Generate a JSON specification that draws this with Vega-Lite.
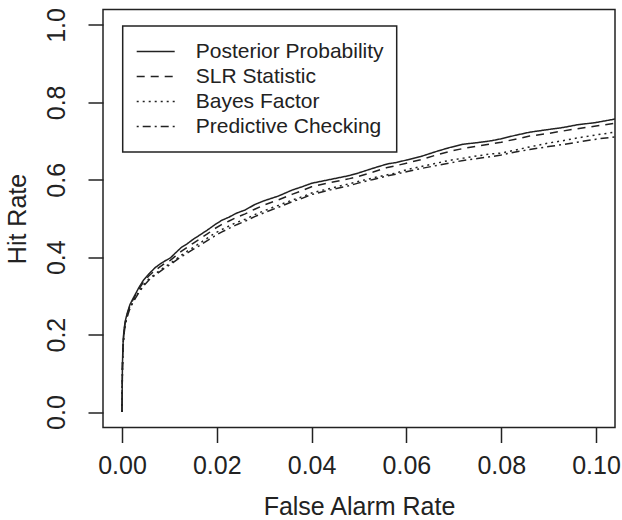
{
 "$schema": "https://vega.github.io/schema/vega-lite/v6.json",
 "width": 512,
 "height": 418,
 "autosize": {"type": "none"},
 "padding": {"left": 103, "top": 9.5, "right": 7, "bottom": 92.5},
 "background": "white",
 "config": {
  "font": "Liberation Sans",
  "view": {"stroke": "#222", "strokeWidth": 1.5},
  "axis": {"grid": false, "domain": false, "tickColor": "#222", "tickWidth": 1.5, "tickSize": 15, "labelColor": "#222", "titleColor": "#222", "labelFontSize": 25, "titleFontSize": 25, "titleFontWeight": "normal", "labelFont": "Liberation Sans", "titleFont": "Liberation Sans"},
  "legend": {"strokeColor": "#222", "strokeWidth": 1.5, "padding": 13, "labelFont": "Liberation Sans"}
 },
 "data": {"values": [
  {"m":"Posterior Probability","x":0,"y":0},{"m":"Posterior Probability","x":0.0001,"y":0.12},{"m":"Posterior Probability","x":0.0002,"y":0.17},{"m":"Posterior Probability","x":0.0004,"y":0.21},{"m":"Posterior Probability","x":0.0007,"y":0.235},{"m":"Posterior Probability","x":0.0011,"y":0.255},{"m":"Posterior Probability","x":0.0017,"y":0.278},{"m":"Posterior Probability","x":0.0025,"y":0.297},{"m":"Posterior Probability","x":0.0035,"y":0.32},{"m":"Posterior Probability","x":0.0045,"y":0.34},{"m":"Posterior Probability","x":0.0057,"y":0.357},{"m":"Posterior Probability","x":0.007,"y":0.373},{"m":"Posterior Probability","x":0.008,"y":0.382},{"m":"Posterior Probability","x":0.009,"y":0.39},{"m":"Posterior Probability","x":0.0102,"y":0.398},{"m":"Posterior Probability","x":0.0112,"y":0.41},{"m":"Posterior Probability","x":0.0125,"y":0.425},{"m":"Posterior Probability","x":0.0138,"y":0.435},{"m":"Posterior Probability","x":0.015,"y":0.446},{"m":"Posterior Probability","x":0.0165,"y":0.458},{"m":"Posterior Probability","x":0.018,"y":0.47},{"m":"Posterior Probability","x":0.0196,"y":0.484},{"m":"Posterior Probability","x":0.021,"y":0.495},{"m":"Posterior Probability","x":0.0225,"y":0.503},{"m":"Posterior Probability","x":0.0242,"y":0.514},{"m":"Posterior Probability","x":0.026,"y":0.522},{"m":"Posterior Probability","x":0.028,"y":0.536},{"m":"Posterior Probability","x":0.03,"y":0.546},{"m":"Posterior Probability","x":0.033,"y":0.558},{"m":"Posterior Probability","x":0.036,"y":0.574},{"m":"Posterior Probability","x":0.038,"y":0.582},{"m":"Posterior Probability","x":0.04,"y":0.591},{"m":"Posterior Probability","x":0.044,"y":0.601},{"m":"Posterior Probability","x":0.048,"y":0.611},{"m":"Posterior Probability","x":0.05,"y":0.618},{"m":"Posterior Probability","x":0.053,"y":0.63},{"m":"Posterior Probability","x":0.056,"y":0.641},{"m":"Posterior Probability","x":0.058,"y":0.645},{"m":"Posterior Probability","x":0.06,"y":0.651},{"m":"Posterior Probability","x":0.063,"y":0.66},{"m":"Posterior Probability","x":0.066,"y":0.672},{"m":"Posterior Probability","x":0.069,"y":0.683},{"m":"Posterior Probability","x":0.072,"y":0.692},{"m":"Posterior Probability","x":0.075,"y":0.696},{"m":"Posterior Probability","x":0.078,"y":0.701},{"m":"Posterior Probability","x":0.08,"y":0.706},{"m":"Posterior Probability","x":0.083,"y":0.715},{"m":"Posterior Probability","x":0.086,"y":0.723},{"m":"Posterior Probability","x":0.09,"y":0.73},{"m":"Posterior Probability","x":0.093,"y":0.735},{"m":"Posterior Probability","x":0.096,"y":0.742},{"m":"Posterior Probability","x":0.1,"y":0.748},{"m":"Posterior Probability","x":0.104,"y":0.757},
  {"m":"SLR Statistic","x":0,"y":0},{"m":"SLR Statistic","x":0.0001,"y":0.115},{"m":"SLR Statistic","x":0.0002,"y":0.165},{"m":"SLR Statistic","x":0.0004,"y":0.205},{"m":"SLR Statistic","x":0.0007,"y":0.232},{"m":"SLR Statistic","x":0.0011,"y":0.252},{"m":"SLR Statistic","x":0.0017,"y":0.275},{"m":"SLR Statistic","x":0.0025,"y":0.294},{"m":"SLR Statistic","x":0.0035,"y":0.316},{"m":"SLR Statistic","x":0.0045,"y":0.335},{"m":"SLR Statistic","x":0.0057,"y":0.352},{"m":"SLR Statistic","x":0.007,"y":0.366},{"m":"SLR Statistic","x":0.008,"y":0.375},{"m":"SLR Statistic","x":0.009,"y":0.384},{"m":"SLR Statistic","x":0.0102,"y":0.392},{"m":"SLR Statistic","x":0.0112,"y":0.402},{"m":"SLR Statistic","x":0.0125,"y":0.415},{"m":"SLR Statistic","x":0.0138,"y":0.426},{"m":"SLR Statistic","x":0.015,"y":0.436},{"m":"SLR Statistic","x":0.0165,"y":0.448},{"m":"SLR Statistic","x":0.018,"y":0.46},{"m":"SLR Statistic","x":0.0196,"y":0.474},{"m":"SLR Statistic","x":0.021,"y":0.484},{"m":"SLR Statistic","x":0.0225,"y":0.493},{"m":"SLR Statistic","x":0.0242,"y":0.503},{"m":"SLR Statistic","x":0.026,"y":0.512},{"m":"SLR Statistic","x":0.028,"y":0.524},{"m":"SLR Statistic","x":0.03,"y":0.535},{"m":"SLR Statistic","x":0.033,"y":0.548},{"m":"SLR Statistic","x":0.036,"y":0.563},{"m":"SLR Statistic","x":0.038,"y":0.572},{"m":"SLR Statistic","x":0.04,"y":0.582},{"m":"SLR Statistic","x":0.044,"y":0.593},{"m":"SLR Statistic","x":0.048,"y":0.603},{"m":"SLR Statistic","x":0.05,"y":0.609},{"m":"SLR Statistic","x":0.053,"y":0.62},{"m":"SLR Statistic","x":0.056,"y":0.632},{"m":"SLR Statistic","x":0.058,"y":0.637},{"m":"SLR Statistic","x":0.06,"y":0.643},{"m":"SLR Statistic","x":0.063,"y":0.652},{"m":"SLR Statistic","x":0.066,"y":0.663},{"m":"SLR Statistic","x":0.069,"y":0.673},{"m":"SLR Statistic","x":0.072,"y":0.681},{"m":"SLR Statistic","x":0.075,"y":0.687},{"m":"SLR Statistic","x":0.078,"y":0.693},{"m":"SLR Statistic","x":0.08,"y":0.697},{"m":"SLR Statistic","x":0.083,"y":0.705},{"m":"SLR Statistic","x":0.086,"y":0.713},{"m":"SLR Statistic","x":0.09,"y":0.72},{"m":"SLR Statistic","x":0.093,"y":0.726},{"m":"SLR Statistic","x":0.096,"y":0.732},{"m":"SLR Statistic","x":0.1,"y":0.739},{"m":"SLR Statistic","x":0.104,"y":0.746},
  {"m":"Bayes Factor","x":0,"y":0},{"m":"Bayes Factor","x":0.0001,"y":0.11},{"m":"Bayes Factor","x":0.0002,"y":0.16},{"m":"Bayes Factor","x":0.0004,"y":0.2},{"m":"Bayes Factor","x":0.0007,"y":0.228},{"m":"Bayes Factor","x":0.0011,"y":0.248},{"m":"Bayes Factor","x":0.0017,"y":0.27},{"m":"Bayes Factor","x":0.0025,"y":0.289},{"m":"Bayes Factor","x":0.0035,"y":0.31},{"m":"Bayes Factor","x":0.0045,"y":0.328},{"m":"Bayes Factor","x":0.0057,"y":0.344},{"m":"Bayes Factor","x":0.007,"y":0.357},{"m":"Bayes Factor","x":0.008,"y":0.366},{"m":"Bayes Factor","x":0.009,"y":0.375},{"m":"Bayes Factor","x":0.0102,"y":0.384},{"m":"Bayes Factor","x":0.0112,"y":0.393},{"m":"Bayes Factor","x":0.0125,"y":0.405},{"m":"Bayes Factor","x":0.0138,"y":0.416},{"m":"Bayes Factor","x":0.015,"y":0.425},{"m":"Bayes Factor","x":0.0165,"y":0.437},{"m":"Bayes Factor","x":0.018,"y":0.449},{"m":"Bayes Factor","x":0.0196,"y":0.462},{"m":"Bayes Factor","x":0.021,"y":0.471},{"m":"Bayes Factor","x":0.0225,"y":0.48},{"m":"Bayes Factor","x":0.0242,"y":0.49},{"m":"Bayes Factor","x":0.026,"y":0.498},{"m":"Bayes Factor","x":0.028,"y":0.51},{"m":"Bayes Factor","x":0.03,"y":0.52},{"m":"Bayes Factor","x":0.033,"y":0.534},{"m":"Bayes Factor","x":0.036,"y":0.548},{"m":"Bayes Factor","x":0.038,"y":0.556},{"m":"Bayes Factor","x":0.04,"y":0.566},{"m":"Bayes Factor","x":0.044,"y":0.578},{"m":"Bayes Factor","x":0.048,"y":0.59},{"m":"Bayes Factor","x":0.05,"y":0.596},{"m":"Bayes Factor","x":0.053,"y":0.605},{"m":"Bayes Factor","x":0.056,"y":0.613},{"m":"Bayes Factor","x":0.058,"y":0.618},{"m":"Bayes Factor","x":0.06,"y":0.626},{"m":"Bayes Factor","x":0.063,"y":0.634},{"m":"Bayes Factor","x":0.066,"y":0.642},{"m":"Bayes Factor","x":0.069,"y":0.65},{"m":"Bayes Factor","x":0.072,"y":0.656},{"m":"Bayes Factor","x":0.075,"y":0.662},{"m":"Bayes Factor","x":0.078,"y":0.667},{"m":"Bayes Factor","x":0.08,"y":0.669},{"m":"Bayes Factor","x":0.083,"y":0.677},{"m":"Bayes Factor","x":0.086,"y":0.685},{"m":"Bayes Factor","x":0.09,"y":0.695},{"m":"Bayes Factor","x":0.093,"y":0.701},{"m":"Bayes Factor","x":0.096,"y":0.708},{"m":"Bayes Factor","x":0.1,"y":0.716},{"m":"Bayes Factor","x":0.104,"y":0.723},
  {"m":"Predictive Checking","x":0,"y":0},{"m":"Predictive Checking","x":0.0001,"y":0.11},{"m":"Predictive Checking","x":0.0002,"y":0.158},{"m":"Predictive Checking","x":0.0004,"y":0.198},{"m":"Predictive Checking","x":0.0007,"y":0.226},{"m":"Predictive Checking","x":0.0011,"y":0.246},{"m":"Predictive Checking","x":0.0017,"y":0.268},{"m":"Predictive Checking","x":0.0025,"y":0.287},{"m":"Predictive Checking","x":0.0035,"y":0.307},{"m":"Predictive Checking","x":0.0045,"y":0.325},{"m":"Predictive Checking","x":0.0057,"y":0.341},{"m":"Predictive Checking","x":0.007,"y":0.354},{"m":"Predictive Checking","x":0.008,"y":0.363},{"m":"Predictive Checking","x":0.009,"y":0.372},{"m":"Predictive Checking","x":0.0102,"y":0.381},{"m":"Predictive Checking","x":0.0112,"y":0.39},{"m":"Predictive Checking","x":0.0125,"y":0.401},{"m":"Predictive Checking","x":0.0138,"y":0.411},{"m":"Predictive Checking","x":0.015,"y":0.42},{"m":"Predictive Checking","x":0.0165,"y":0.431},{"m":"Predictive Checking","x":0.018,"y":0.443},{"m":"Predictive Checking","x":0.0196,"y":0.455},{"m":"Predictive Checking","x":0.021,"y":0.465},{"m":"Predictive Checking","x":0.0225,"y":0.474},{"m":"Predictive Checking","x":0.0242,"y":0.484},{"m":"Predictive Checking","x":0.026,"y":0.493},{"m":"Predictive Checking","x":0.028,"y":0.505},{"m":"Predictive Checking","x":0.03,"y":0.515},{"m":"Predictive Checking","x":0.033,"y":0.529},{"m":"Predictive Checking","x":0.036,"y":0.544},{"m":"Predictive Checking","x":0.038,"y":0.552},{"m":"Predictive Checking","x":0.04,"y":0.562},{"m":"Predictive Checking","x":0.044,"y":0.574},{"m":"Predictive Checking","x":0.048,"y":0.585},{"m":"Predictive Checking","x":0.05,"y":0.592},{"m":"Predictive Checking","x":0.053,"y":0.601},{"m":"Predictive Checking","x":0.056,"y":0.61},{"m":"Predictive Checking","x":0.058,"y":0.615},{"m":"Predictive Checking","x":0.06,"y":0.621},{"m":"Predictive Checking","x":0.063,"y":0.629},{"m":"Predictive Checking","x":0.066,"y":0.636},{"m":"Predictive Checking","x":0.069,"y":0.643},{"m":"Predictive Checking","x":0.072,"y":0.65},{"m":"Predictive Checking","x":0.075,"y":0.655},{"m":"Predictive Checking","x":0.078,"y":0.66},{"m":"Predictive Checking","x":0.08,"y":0.664},{"m":"Predictive Checking","x":0.083,"y":0.672},{"m":"Predictive Checking","x":0.086,"y":0.678},{"m":"Predictive Checking","x":0.09,"y":0.686},{"m":"Predictive Checking","x":0.093,"y":0.691},{"m":"Predictive Checking","x":0.096,"y":0.697},{"m":"Predictive Checking","x":0.1,"y":0.705},{"m":"Predictive Checking","x":0.104,"y":0.711}
 ]},
 "mark": {"type": "line", "stroke": "#222", "strokeWidth": 1.5, "clip": true},
 "encoding": {
  "x": {"field": "x", "type": "quantitative", "scale": {"domain": [-0.004, 0.104], "nice": false, "zero": false}, "axis": {"values": [0, 0.02, 0.04, 0.06, 0.08, 0.1], "format": ".2f", "title": "False Alarm Rate", "labelPadding": 11, "titlePadding": 16, "labelFlush": false, "labelOverlap": false}},
  "y": {"field": "y", "type": "quantitative", "scale": {"domain": [-0.04, 1.04], "nice": false, "zero": false}, "axis": {"values": [0, 0.2, 0.4, 0.6, 0.8, 1], "format": ".1f", "title": "Hit Rate", "labelAngle": 270, "labelAlign": "center", "labelBaseline": "alphabetic", "labelPadding": 24, "titlePadding": 14, "labelFlush": false, "labelOverlap": false}},
  "strokeDash": {"field": "m", "type": "nominal", "scale": {"domain": ["Posterior Probability", "SLR Statistic", "Bayes Factor", "Predictive Checking"], "range": [[1, 0], [8, 6], [2, 4], [2, 4, 8, 4]]}, "legend": {"title": null, "orient": "none", "legendX": 19.7, "legendY": 16.5, "symbolType": "stroke", "symbolSize": 1444, "symbolStrokeWidth": 1.5, "symbolStrokeColor": "#222", "labelFontSize": 21, "labelColor": "#222", "labelOffset": 20, "labelLimit": 400, "clipHeight": 25, "rowPadding": 0}}
 }
}
